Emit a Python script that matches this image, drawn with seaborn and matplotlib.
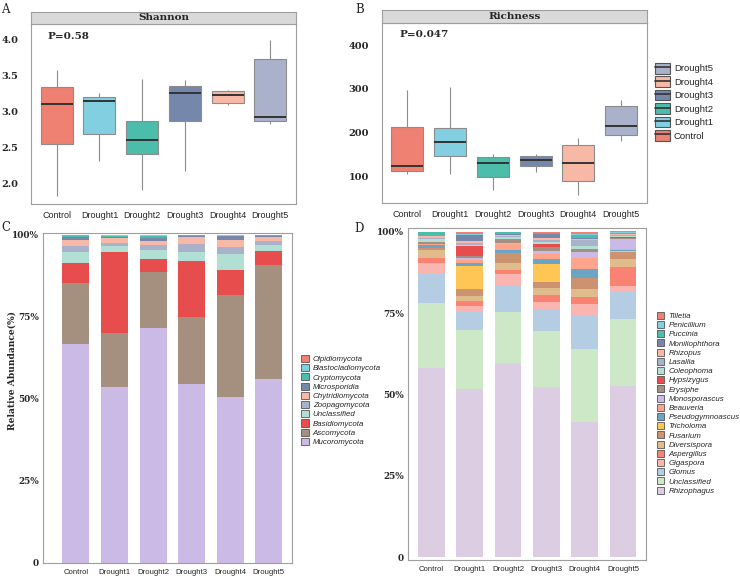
import matplotlib
matplotlib.use("Agg")
import matplotlib.pyplot as plt
import seaborn as sns
import pandas as pd
import numpy as np
from matplotlib.patches import Patch
from matplotlib.lines import Line2D

sns.set_theme(style="white")
plt.rcParams["font.family"] = ["DejaVu Sans"]

groups = ["Control", "Drought1", "Drought2", "Drought3", "Drought4", "Drought5"]
groupColors = ["#EE8172", "#82CFE2", "#4CBCAB", "#7687AC", "#F7B9A5", "#A9B2CA"]

shannonLow = [1.83, 2.32, 1.91, 2.17, 3.09, 2.83]
shannonQ1 = [2.55, 2.69, 2.41, 2.87, 3.12, 2.87]
shannonMed = [3.10, 3.15, 2.60, 3.25, 3.23, 2.93]
shannonQ3 = [3.34, 3.20, 2.87, 3.35, 3.29, 3.72]
shannonHigh = [3.57, 3.25, 3.45, 3.43, 3.30, 3.99]

richLow = [106, 106, 70, 111, 57, 182]
richQ1 = [113, 146, 98, 124, 89, 195]
richMed = [125, 180, 131, 137, 130, 216]
richQ3 = [214, 210, 144, 148, 172, 262]
richHigh = [298, 305, 151, 151, 188, 275]

# panel C, stack order bottom -> top
phyla = ["Mucoromycota", "Ascomycota", "Basidiomycota", "Unclassified", "Zoopagomycota",
         "Chytridiomycota", "Microsporidia", "Cryptomycota", "Blastocladiomycota", "Olpidiomycota"]
phylaColors = ["#CBB9E6", "#A5907F", "#E74D4D", "#B2DFD4", "#A9B2CA",
               "#F7B9A5", "#7687AC", "#4CBCAB", "#82CFE2", "#EE8172"]
phylumControl = [0.667, 0.186, 0.063, 0.032, 0.0195, 0.016, 0.009, 0.003, 0.002, 0.002]
phylumDrought1 = [0.537, 0.165, 0.247, 0.018, 0.0086, 0.015, 0.004, 0.003, 0.001, 0.001]
phylumDrought2 = [0.716, 0.172, 0.040, 0.027, 0.0145, 0.013, 0.009, 0.006, 0.002, 0.0005]
phylumDrought3 = [0.545, 0.204, 0.172, 0.028, 0.0236, 0.020, 0.005, 0.001, 0.001, 0.0004]
phylumDrought4 = [0.5066, 0.311, 0.076, 0.048, 0.021, 0.022, 0.011, 0.001, 0.002, 0.0014]
phylumDrought5 = [0.5615, 0.347, 0.0435, 0.0175, 0.0115, 0.013, 0.003, 0.002, 0.0005, 0.0005]

# panel D, stack order bottom -> top
genera = ["Rhizophagus", "Unclassified", "Glomus", "Gigaspora", "Aspergillus", "Diversispora",
          "Fusarium", "Tricholoma", "Pseudogymnoascus", "Beauveria", "Monosporascus", "Erysiphe",
          "Hypsizygus", "Coleophoma", "Lasallia", "Rhizopus", "Moniliophthora", "Puccinia",
          "Penicillium", "Tilletia"]
generaColors = ["#DCCDE3", "#CDE8C6", "#B4CDE2", "#FAB5B0", "#F98272", "#E0BB8C",
                "#CB9370", "#FFC656", "#6AA5C6", "#FCA58C", "#CBB9E6", "#A5907F",
                "#E74D4D", "#B2DFD4", "#A9B2CA", "#F7B9A5", "#7687AC", "#4CBCAB",
                "#82CFE2", "#EE8172"]
genusControl = [0.580, 0.202, 0.088, 0.034, 0.015, 0.025, 0.007, 0.000, 0.008, 0.002,
                0.002, 0.004, 0.001, 0.010, 0.002, 0.006, 0.002, 0.010, 0.002, 0.000]
genusDrought1 = [0.5167, 0.181, 0.056, 0.018, 0.0145, 0.016, 0.021, 0.070, 0.012, 0.007,
                 0.007, 0.007, 0.030, 0.004, 0.006, 0.004, 0.020, 0.001, 0.001, 0.008]
genusDrought2 = [0.5975, 0.1545, 0.081, 0.036, 0.014, 0.0206, 0.030, 0.000, 0.011, 0.017,
                 0.003, 0.012, 0.002, 0.005, 0.004, 0.003, 0.003, 0.004, 0.002, 0.0004]
genusDrought3 = [0.522, 0.173, 0.0665, 0.0215, 0.022, 0.023, 0.018, 0.0555, 0.0135, 0.017,
                 0.008, 0.0137, 0.008, 0.006, 0.007, 0.005, 0.012, 0.003, 0.002, 0.003]
genusDrought4 = [0.416, 0.2235, 0.1055, 0.033, 0.0225, 0.023, 0.0336, 0.000, 0.0286, 0.032,
                 0.0204, 0.009, 0.001, 0.009, 0.016, 0.004, 0.003, 0.010, 0.002, 0.008]
genusDrought5 = [0.527, 0.2047, 0.082, 0.0194, 0.057, 0.0245, 0.0245, 0.002, 0.004, 0.003,
                 0.0295, 0.004, 0.001, 0.003, 0.003, 0.003, 0.002, 0.002, 0.003, 0.002]

borderGrey = "#9e9e9e"
serif = "DejaVu Serif"
sansFont = "Liberation Sans"

fig = plt.figure(figsize=(7.4, 5.76), dpi=100)
W, H = 740, 576


def pixelAxes(x0, y0, x1, y1):
    return fig.add_axes([x0 / W, 1 - y1 / H, (x1 - x0) / W, (y1 - y0) / H])


def styleBorder(ax):
    for spine in ax.spines.values():
        spine.set_visible(True)
        spine.set_color(borderGrey)
        spine.set_linewidth(0.8)


def addStrip(x0, y0, x1, y1, label):
    stripAxis = pixelAxes(x0, y0, x1, y1)
    stripAxis.set_facecolor("#d9d9d9")
    stripAxis.set_xticks([])
    stripAxis.set_yticks([])
    styleBorder(stripAxis)
    stripAxis.text(0.5, 0.5, label, ha="center", va="center", fontsize=7.5,
                   fontweight="bold", family=serif, transform=stripAxis.transAxes)


def drawBoxes(ax, low, q1, med, q3, high):
    frame = pd.DataFrame({
        "group": np.repeat(groups, 5),
        "value": np.column_stack([low, q1, med, q3, high]).ravel(),
    })
    sns.boxplot(data=frame, x="group", y="value", hue="group", order=groups, hue_order=groups,
                palette=groupColors, saturation=1, width=0.75, whis=(0, 100),
                linecolor="#8c8c8c", linewidth=0.8, showcaps=False,
                medianprops=dict(color="#333333", linewidth=1.4), legend=False, ax=ax)
    ax.set_xlim(-0.6, 5.6)
    ax.set_xlabel("")
    ax.set_ylabel("")
    styleBorder(ax)
    ax.tick_params(axis="x", length=3, width=0.6, color=borderGrey, pad=2, labelsize=6.5)
    ax.tick_params(axis="y", length=0, pad=9, labelsize=7)
    for label in ax.get_xticklabels():
        label.set_family(sansFont)


def drawStack(ax, table, colors):
    stacked = np.cumsum(np.array(table), axis=1)
    for k in range(stacked.shape[1] - 1, -1, -1):
        sns.barplot(x=groups, y=stacked[:, k], order=groups, color=colors[k], width=0.7,
                    saturation=1, linewidth=0, errorbar=None, ax=ax)
    styleBorder(ax)
    ax.set_yticks([0, 0.25, 0.5, 0.75, 1.0])
    ax.set_yticklabels(["0", "25%", "50%", "75%", "100%"], family=serif, fontweight="bold")
    ax.tick_params(axis="x", length=2, width=0.6, color=borderGrey, pad=2, labelsize=5.6)
    ax.tick_params(axis="y", length=2, width=0.6, color=borderGrey, pad=1, labelsize=6.4)
    for label in ax.get_xticklabels():
        label.set_family(sansFont)
    ax.set_xlabel("")
    ax.set_ylabel("")


def stackLegend(names, colors, x, y):
    handles = [Patch(facecolor=c, edgecolor="#555555", linewidth=0.6) for c in colors[::-1]]
    fig.legend(handles, names[::-1], loc="upper left", bbox_to_anchor=(x / W, 1 - y / H),
               frameon=False, handlelength=0.95, handleheight=1.0,
               labelspacing=0.12, handletextpad=0.55, borderpad=0, borderaxespad=0,
               prop={"family": sansFont, "style": "italic", "size": 5.7})


# A: Shannon
shannonAxis = pixelAxes(31, 24, 296, 204)
drawBoxes(shannonAxis, shannonLow, shannonQ1, shannonMed, shannonQ3, shannonHigh)
shannonAxis.set_ylim(1.72, 4.21)
shannonAxis.set_yticks([2.0, 2.5, 3.0, 3.5, 4.0])
shannonAxis.set_yticklabels(["2.0", "2.5", "3.0", "3.5", "4.0"], family=serif, fontweight="bold")
shannonAxis.text(0.064, 0.933, "P=0.58", transform=shannonAxis.transAxes, ha="left", va="center",
                 fontsize=7.5, fontweight="bold", family=serif)
addStrip(31, 12, 296, 24, "Shannon")

# B: Richness
richAxis = pixelAxes(381.7, 23.3, 646.7, 203.3)
drawBoxes(richAxis, richLow, richQ1, richMed, richQ3, richHigh)
richAxis.set_ylim(39, 450)
richAxis.set_yticks([100, 200, 300, 400])
richAxis.set_yticklabels(["100", "200", "300", "400"], family=serif, fontweight="bold")
richAxis.text(0.066, 0.937, "P=0.047", transform=richAxis.transAxes, ha="left", va="center",
              fontsize=7.5, fontweight="bold", family=serif)
addStrip(381.7, 10, 646.7, 23.3, "Richness")

boxHandles = [(Patch(facecolor=c, edgecolor="#555555", linewidth=0.8),
               Line2D([], [], color="#333333", linewidth=1.2)) for c in groupColors[::-1]]
fig.legend(boxHandles, groups[::-1], loc="upper left", bbox_to_anchor=(655 / W, 1 - 63 / H),
           frameon=False, handlelength=1.6, handleheight=1.35, labelspacing=0.3,
           handletextpad=0.4, borderpad=0, borderaxespad=0,
           prop={"family": sansFont, "size": 6.8})

# C: phylum composition
phylumAxis = pixelAxes(43, 232.7, 292, 563.3)
drawStack(phylumAxis, [phylumControl, phylumDrought1, phylumDrought2,
                       phylumDrought3, phylumDrought4, phylumDrought5], phylaColors)
phylumAxis.set_xlim(-0.85, 5.6)
phylumAxis.set_ylim(-0.002, 1.007)
fig.text(12 / W, 1 - 371 / H, "Relative Abundance(%)", rotation=90, ha="center", va="center",
         family=serif, fontweight="bold", fontsize=6.6)
stackLegend(phyla, phylaColors, 301, 355)

# D: genus composition
genusAxis = pixelAxes(408.3, 228.3, 646, 560)
drawStack(genusAxis, [genusControl, genusDrought1, genusDrought2,
                      genusDrought3, genusDrought4, genusDrought5], generaColors)
genusAxis.set_xlim(-0.6, 5.6)
genusAxis.set_ylim(-0.0083, 1.0104)
stackLegend(genera, generaColors, 656.7, 311.7)

for letter, px, py in [("A", 1, 3), ("B", 355, 3), ("C", 1, 221), ("D", 354, 222)]:
    fig.text(px / W, 1 - py / H, letter, ha="left", va="top", fontsize=8.5, family=serif)

fig.savefig("out.png", dpi=100)
